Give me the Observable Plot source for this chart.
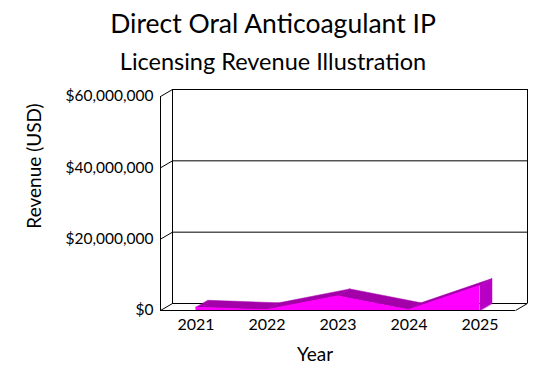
<!DOCTYPE html>
<html>
<head>
<meta charset="utf-8">
<script src="https://cdn.jsdelivr.net/npm/d3@7"></script>
<script src="https://cdn.jsdelivr.net/npm/@observablehq/plot@0.6"></script>
<style>
  html, body { margin: 0; padding: 0; background: #fff; }
  #wrap { position: relative; width: 547px; height: 372px; font-family: "Lato", sans-serif; color: #000; }
  #title { position: absolute; left: 0; width: 546px; top: 8px; text-align: center; font-size: 26.5px; line-height: 30px; }
  #subtitle { position: absolute; left: 0; width: 546px; top: 47px; text-align: center; font-size: 23.5px; line-height: 28px; }
  #ylabel { position: absolute; left: 33px; top: 166px; transform: translate(-50%, -50%) rotate(-90deg); font-size: 19px; white-space: nowrap; }
  #xlabel { position: absolute; left: 315px; top: 353px; transform: translate(-50%, -50%); font-size: 19px; white-space: nowrap; }
  #chart { position: absolute; left: 0; top: 80px; }
</style>
</head>
<body>
<div id="wrap">
  <div id="title"></div>
  <div id="subtitle"></div>
  <div id="chart"></div>
  <div id="ylabel"></div>
  <div id="xlabel"></div>
</div>
<script>
const titleText = "Direct Oral Anticoagulant IP";
const subtitleText = "Licensing Revenue Illustration";
const years = [2021, 2022, 2023, 2024, 2025];
const revenue = [900000, 200000, 4100000, 200000, 7000000];
const yTicks = [0, 20000000, 40000000, 60000000];
const xLabel = "Year";
const yLabel = "Revenue (USD)";

document.getElementById("title").textContent = titleText;
document.getElementById("subtitle").textContent = subtitleText;
document.getElementById("xlabel").textContent = xLabel;
document.getElementById("ylabel").textContent = yLabel;

const W = 547, H = 292;
const mL = 160, mR = 32, mT = 16, mB = 62;
const xDom = [2020.5, 2025.5], yDom = [0, 60000000];
const depthPxX = 12, depthPxY = 7;
const dX = depthPxX * (xDom[1] - xDom[0]) / (W - mL - mR);
const dY = depthPxY * (yDom[1] - yDom[0]) / (H - mT - mB);

const data = years.map((year, i) => ({year, value: revenue[i]}));
const topPolys = [];
for (let i = 0; i < data.length - 1; i++) {
  const a = data[i], b = data[i + 1];
  topPolys.push({seg: i, x: a.year, y: a.value});
  topPolys.push({seg: i, x: b.year, y: b.value});
  topPolys.push({seg: i, x: b.year + dX, y: b.value + dY});
  topPolys.push({seg: i, x: a.year + dX, y: a.value + dY});
}
const last = data[data.length - 1];
const endFace = [
  {x: last.year, y: 0},
  {x: last.year, y: last.value},
  {x: last.year + dX, y: last.value + dY},
  {x: last.year + dX, y: dY}
];

const fmt = d => "$" + d3.format(",")(d);
const font = "Lato, sans-serif";

const chart = Plot.plot({
  width: W, height: H,
  marginLeft: mL, marginRight: mR, marginTop: mT, marginBottom: mB,
  style: {fontFamily: font, background: "#fff", overflow: "visible"},
  x: {domain: xDom},
  y: {domain: yDom},
  marks: [
    Plot.ruleY(yTicks, {y: d => d + dY, x1: xDom[0] + dX, x2: xDom[1] + dX, stroke: "#000", strokeOpacity: 1}),
    Plot.ruleX([xDom[0] + dX, xDom[1] + dX], {y1: dY, y2: yDom[1] + dY, stroke: "#000"}),
    Plot.link(yTicks, {x1: xDom[0], y1: d => d, x2: xDom[0] + dX, y2: d => d + dY, stroke: "#000"}),
    Plot.link([0], {x1: xDom[1], y1: 0, x2: xDom[1] + dX, y2: dY, stroke: "#000"}),
    Plot.line(topPolys, {x: "x", y: "y", z: "seg", fill: "#a400aa", stroke: "#a400aa", strokeWidth: 0.5, curve: "linear-closed"}),
    Plot.line(endFace, {x: "x", y: "y", fill: "#b800c4", stroke: "#b800c4", strokeWidth: 0.5, curve: "linear-closed"}),
    Plot.areaY(data, {x: "year", y: "value", fill: "#ff00ff"}),
    Plot.ruleX([xDom[0]], {y1: 0, y2: yDom[1], stroke: "#000"}),
    Plot.ruleY([0], {x1: xDom[0], x2: xDom[1], stroke: "#000"}),
    Plot.axisY({ticks: yTicks, tickFormat: fmt, tickSize: 0, tickPadding: 7, fontSize: 15.5, label: null, fill: "#000"}),
    Plot.axisX({ticks: years, tickFormat: d => String(d), tickSize: 0, tickPadding: 8, fontSize: 16, label: null, fill: "#000"})
  ]
});
document.getElementById("chart").appendChild(chart);
</script>
</body>
</html>
